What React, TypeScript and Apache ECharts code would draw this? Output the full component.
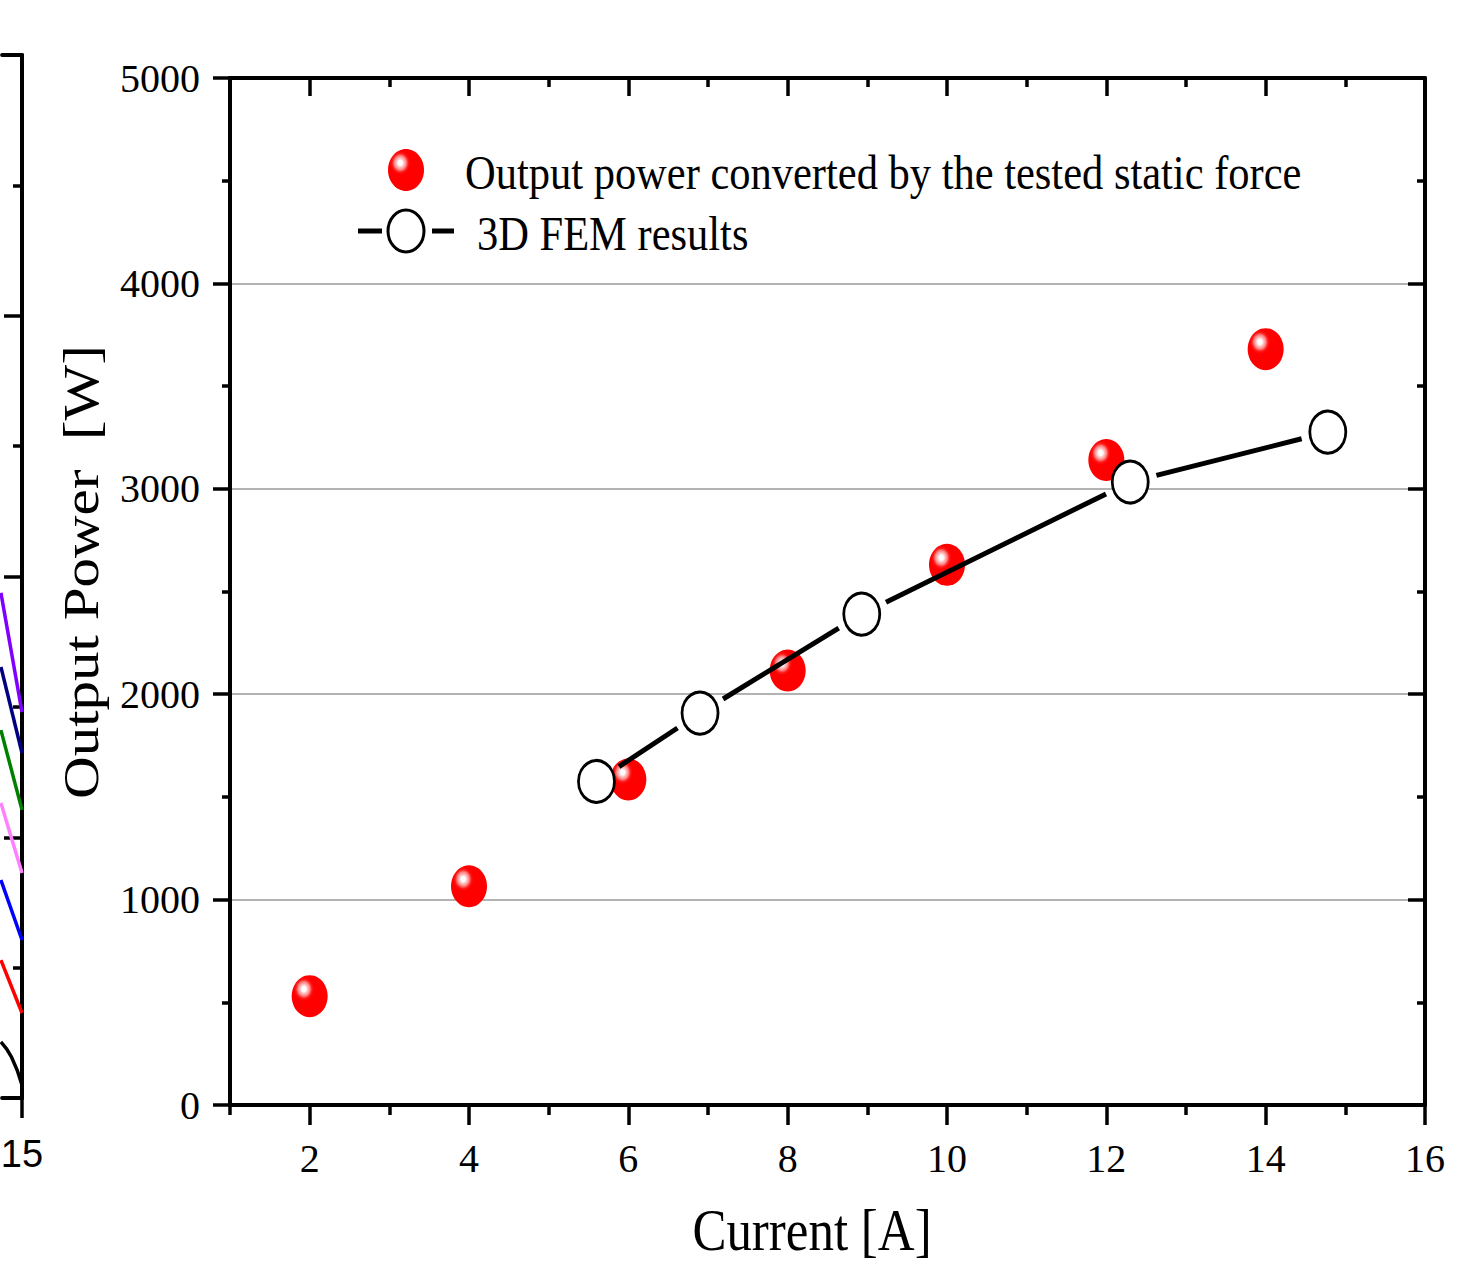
import React, { useEffect, useRef } from "react";
import * as echarts from "echarts";

// ---- Data ----
const testedCurrent = [2, 4, 6, 8, 10, 12, 14];
const testedPower = [530, 1065, 1585, 2115, 2630, 3140, 3680];
const femCurrent = [5.6, 6.9, 8.93, 12.3, 14.78];
const femPower = [1575, 1908, 2390, 3033, 3276];

const xLabelValues = [2, 4, 6, 8, 10, 12, 14, 16];
const xMinorValues = [1, 3, 5, 7, 9, 11, 13, 15];

// Neighbouring (cropped) chart at the left edge
const leftX = [14.3, 15];
const leftBlackX = [14.3, 14.65, 15];
const leftPurple = [1.937, 1.48];
const leftNavy = [1.653, 1.323];
const leftGreen = [1.411, 1.105];
const leftPink = [1.131, 0.863];
const leftBlue = [0.836, 0.606];
const leftRed = [0.529, 0.326];
const leftBlack = [0.215, 0.157, 0.05];

const SERIF = "Liberation Serif";
const SANS = "Liberation Sans";

const ballFill = {
  type: "radial",
  x: 0.34,
  y: 0.33,
  r: 0.7,
  colorStops: [
    { offset: 0, color: "#ffffff" },
    { offset: 0.08, color: "#ffffff" },
    { offset: 0.15, color: "#ffc4c4" },
    { offset: 0.24, color: "#ff8080" },
    { offset: 0.32, color: "#ff1a1a" },
    { offset: 0.4, color: "#ff0000" },
    { offset: 1, color: "#ff0000" },
  ],
};

export default function App() {
  const ref = useRef<HTMLDivElement>(null);
  useEffect(() => {
    document.body.style.margin = "0";
    const chart = echarts.init(ref.current!, null, { renderer: "svg" });
    const zip = (xs: number[], ys: number[]) => xs.map((x, i) => [x, ys[i]]);
    const segs = femCurrent.slice(0, -1).map((x, i) => [x, femPower[i], femCurrent[i + 1], femPower[i + 1]]);
    const GAP = 27;
    const axisLine = { show: true, lineStyle: { color: "#000", width: 4 } };
    const leftCurve = (xs: number[], ys: number[], color: string) => ({
      type: "line",
      xAxisIndex: 4,
      yAxisIndex: 2,
      data: zip(xs, ys),
      showSymbol: false,
      smooth: xs.length > 2,
      lineStyle: { color, width: 3.5 },
    });

    chart.setOption({
      animation: false,
      backgroundColor: "#fff",
      grid: [
        { left: 230, right: 39, top: 78, bottom: 157 },
        { left: 0, width: 22, top: 55, height: 1043 },
      ],
      xAxis: [
        {
          gridIndex: 0, type: "value", position: "bottom", min: 1, max: 16,
          axisLine,
          axisTick: { show: true, customValues: xLabelValues, length: 20, lineStyle: { color: "#000", width: 3.5 } },
          axisLabel: { customValues: xLabelValues, fontFamily: SERIF, fontSize: 40, color: "#000", margin: 33 },
          splitLine: { show: false },
        },
        {
          gridIndex: 0, type: "value", position: "bottom", min: 1, max: 16,
          axisLine: { show: false },
          axisTick: { show: true, customValues: xMinorValues, length: 10, lineStyle: { color: "#000", width: 3.5 } },
          axisLabel: { show: false },
          splitLine: { show: false },
        },
        {
          gridIndex: 0, type: "value", position: "top", min: 1, max: 16,
          axisLine,
          axisTick: { show: true, inside: true, customValues: xLabelValues, length: 18, lineStyle: { color: "#000", width: 3.5 } },
          axisLabel: { show: false },
          splitLine: { show: false },
        },
        {
          gridIndex: 0, type: "value", position: "top", min: 1, max: 16,
          axisLine: { show: false },
          axisTick: { show: true, inside: true, customValues: xMinorValues, length: 9, lineStyle: { color: "#000", width: 3.5 } },
          axisLabel: { show: false },
          splitLine: { show: false },
        },
        {
          gridIndex: 1, type: "value", position: "bottom", min: 14.34, max: 15,
          axisLine,
          axisTick: { show: true, customValues: [15], length: 20, lineStyle: { color: "#000", width: 3.5 } },
          axisLabel: { customValues: [15], fontFamily: SANS, fontSize: 38, color: "#000", margin: 37 },
          splitLine: { show: false },
        },
        {
          gridIndex: 1, type: "value", position: "top", min: 14.34, max: 15,
          axisLine,
          axisTick: { show: false },
          axisLabel: { show: false },
          splitLine: { show: false },
        },
      ],
      yAxis: [
        {
          gridIndex: 0, type: "value", position: "left", min: 0, max: 5000, interval: 1000,
          axisLine,
          axisTick: { show: true, length: 17, lineStyle: { color: "#000", width: 3.5 } },
          minorTick: { show: true, splitNumber: 2, length: 8, lineStyle: { color: "#000", width: 3.5 } },
          axisLabel: { fontFamily: SERIF, fontSize: 40, color: "#000", margin: 30, formatter: (v: number) => String(v) },
          splitLine: { show: true, lineStyle: { color: "#9a9a9a", width: 1.5 } },
        },
        {
          gridIndex: 0, type: "value", position: "right", min: 0, max: 5000, interval: 1000,
          axisLine,
          axisTick: { show: true, inside: true, length: 17, lineStyle: { color: "#000", width: 3.5 } },
          minorTick: { show: true, splitNumber: 2, length: 8, lineStyle: { color: "#000", width: 3.5 } },
          axisLabel: { show: false },
          splitLine: { show: false },
        },
        {
          gridIndex: 1, type: "value", position: "right", min: 0, max: 4, interval: 1,
          axisLine,
          axisTick: { show: true, inside: true, length: 18, lineStyle: { color: "#000", width: 3.5 } },
          minorTick: { show: true, splitNumber: 2, length: 9, lineStyle: { color: "#000", width: 3.5 } },
          axisLabel: { show: false },
          splitLine: { show: false },
        },
      ],
      series: [
        {
          type: "scatter",
          name: "Output power converted by the tested static force",
          xAxisIndex: 0, yAxisIndex: 0, z: 2,
          data: zip(testedCurrent, testedPower),
          symbol: "circle",
          symbolSize: [36, 42],
          itemStyle: { color: ballFill, opacity: 1 },
        },
        {
          type: "custom",
          name: "3D FEM line",
          xAxisIndex: 0, yAxisIndex: 0, z: 3,
          data: segs,
          encode: { x: [0, 2], y: [1, 3] },
          renderItem: (_p: any, api: any) => {
            const a = api.coord([api.value(0), api.value(1)]);
            const b = api.coord([api.value(2), api.value(3)]);
            const dx = b[0] - a[0];
            const dy = b[1] - a[1];
            const len = Math.hypot(dx, dy);
            const ux = dx / len;
            const uy = dy / len;
            return {
              type: "line",
              shape: { x1: a[0] + ux * GAP, y1: a[1] + uy * GAP, x2: b[0] - ux * GAP, y2: b[1] - uy * GAP },
              style: { stroke: "#000", lineWidth: 5 },
            };
          },
        },
        {
          type: "scatter",
          name: "3D FEM results",
          xAxisIndex: 0, yAxisIndex: 0, z: 4,
          data: zip(femCurrent, femPower),
          symbol: "circle",
          symbolSize: [36, 42],
          itemStyle: { color: "#fff", borderColor: "#000", borderWidth: 3, opacity: 1 },
        },
        leftCurve(leftX, leftPurple, "#8000ff"),
        leftCurve(leftX, leftNavy, "#000080"),
        leftCurve(leftX, leftGreen, "#008000"),
        leftCurve(leftX, leftPink, "#ff80ff"),
        leftCurve(leftX, leftBlue, "#0000ff"),
        leftCurve(leftX, leftRed, "#ff0000"),
        leftCurve(leftBlackX, leftBlack, "#000000"),
      ],
      graphic: [
        {
          type: "ellipse",
          shape: { cx: 406, cy: 170, rx: 18, ry: 21 },
          style: { fill: ballFill },
        },
        {
          type: "text",
          x: 465, y: 172, scaleY: 1.15,
          style: { text: "Output power converted by the tested static force", font: `42.5px "${SERIF}"`, fill: "#000", align: "left", verticalAlign: "middle" },
        },
        { type: "line", shape: { x1: 358, y1: 231, x2: 382, y2: 231 }, style: { stroke: "#000", lineWidth: 5 } },
        { type: "line", shape: { x1: 432, y1: 231, x2: 454, y2: 231 }, style: { stroke: "#000", lineWidth: 5 } },
        {
          type: "ellipse",
          shape: { cx: 406, cy: 231, rx: 18, ry: 21 },
          style: { fill: "#fff", stroke: "#000", lineWidth: 3 },
        },
        {
          type: "text",
          x: 477, y: 233, scaleY: 1.15,
          style: { text: "3D FEM results", font: `42.5px "${SERIF}"`, fill: "#000", align: "left", verticalAlign: "middle" },
        },
        {
          type: "text",
          x: 812, y: 1230, scaleY: 1.15,
          style: { text: "Current [A]", font: `51px "${SERIF}"`, fill: "#000", align: "center", verticalAlign: "middle" },
        },
        {
          type: "text",
          x: 81, y: 572, scaleX: 1.18,
          rotation: Math.PI / 2,
          style: { text: "Output Power\u00a0 [W]", font: `50px "${SERIF}"`, fill: "#000", align: "center", verticalAlign: "middle" },
        },
      ],
    });
    return () => chart.dispose();
  }, []);
  return <div ref={ref} style={{ width: 1464, height: 1262 }} />;
}
